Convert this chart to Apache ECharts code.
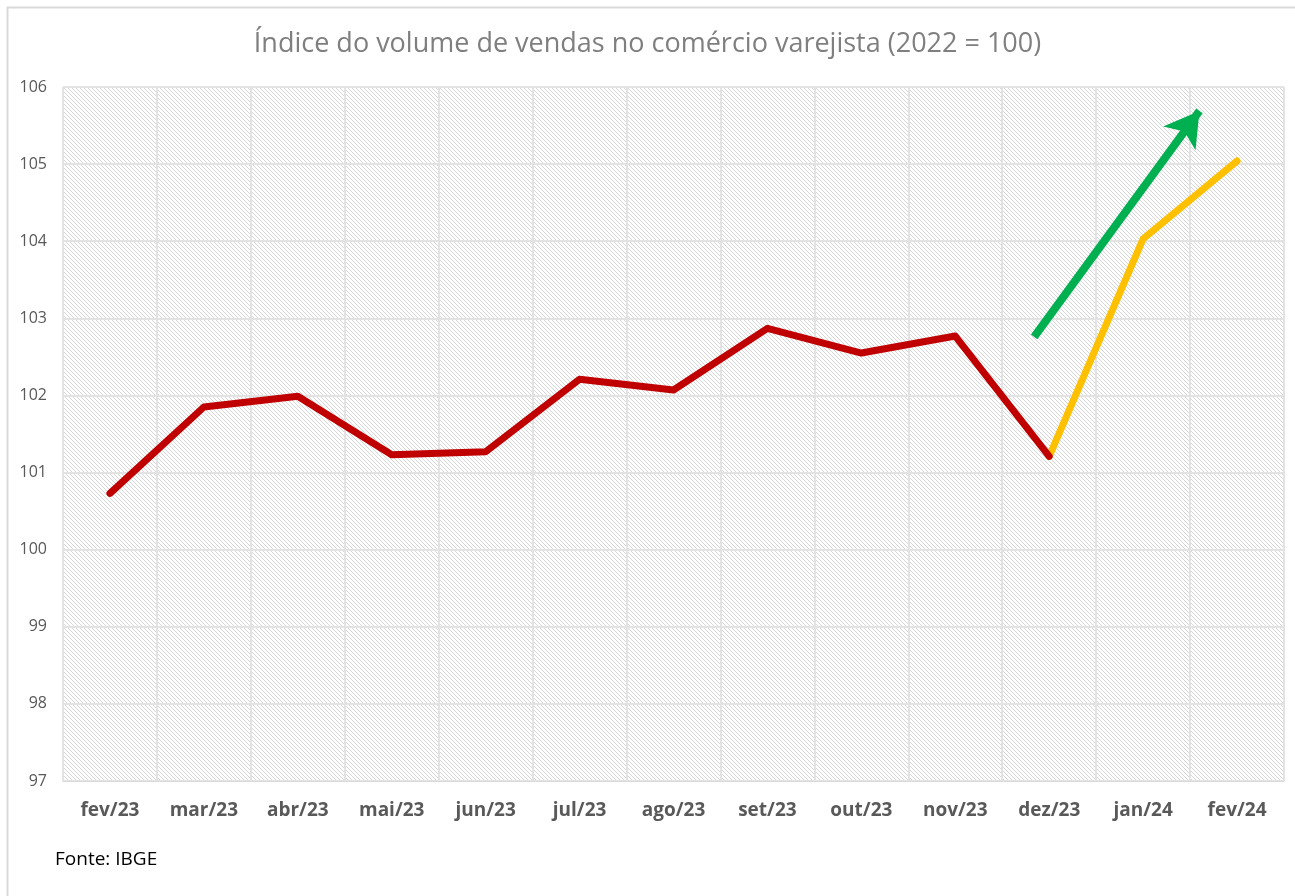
<!DOCTYPE html>
<html><head><meta charset="utf-8">
<script src="https://cdn.jsdelivr.net/npm/echarts@6/dist/echarts.min.js"></script>
<style>html,body{margin:0;padding:0;background:#fff}#c{width:1295px;height:896px}</style>
</head><body><div id="c"></div>
<script>
const categories = ['fev/23','mar/23','abr/23','mai/23','jun/23','jul/23','ago/23','set/23','out/23','nov/23','dez/23','jan/24','fev/24'];
const redValues = [100.73,101.85,101.99,101.23,101.27,102.21,102.07,102.87,102.55,102.77,101.21,null,null];
const yellowValues = [null,null,null,null,null,null,null,null,null,null,101.21,104.03,105.04];
const arrowStart = [9.84, 102.76];
const arrowEnd = [11.60, 105.69];
const yTicks = [97,98,99,100,101,102,103,104,105,106];

const pc = document.createElement('canvas');
pc.width = 4; pc.height = 4;
const px = pc.getContext('2d');
px.fillStyle = '#ffffff'; px.fillRect(0,0,4,4);
px.fillStyle = '#d6d6d6';
for (let i = 0; i < 4; i++) { px.fillRect(i, i, 1, 1); }

const chart = echarts.init(document.getElementById('c'));
chart.setOption({
  animation: false,
  backgroundColor: '#fff',
  title: {
    text: 'Índice do volume de vendas no comércio varejista (2022 = 100)',
    left: 'center', top: 26,
    textStyle: {fontFamily: 'Open Sans', fontSize: 27, fontWeight: 'normal', color: '#7f7f7f'}
  },
  graphic: [
    {type: 'rect', shape: {x: 7.5, y: 7.5, width: 1400, height: 1000}, style: {fill: 'none', stroke: '#d9d9d9', lineWidth: 2}, silent: true, z: -1},
    {type: 'text', left: 55, top: 850, style: {text: 'Fonte: IBGE', fontFamily: 'Open Sans', fontSize: 19, fill: '#000'}}
  ],
  grid: {left: 63, top: 87, width: 1221, height: 694, show: true, borderWidth: 0,
         backgroundColor: {image: pc, repeat: 'repeat'}},
  xAxis: [{
    type: 'category', data: categories, boundaryGap: true,
    axisLine: {show: true, lineStyle: {color: '#d9d9d9', width: 1}},
    axisTick: {show: false},
    axisLabel: {interval: 0, margin: 20, fontFamily: 'Open Sans', fontSize: 19, fontWeight: 'bold', color: '#595959'},
    splitLine: {show: true, interval: 0, lineStyle: {color: '#e3e3e3', width: 2}}
  }, {
    type: 'value', min: -0.5, max: 12.5, show: false
  }],
  yAxis: {
    type: 'value', min: yTicks[0], max: yTicks[yTicks.length-1], interval: 1,
    axisLine: {show: false}, axisTick: {show: false},
    axisLabel: {fontFamily: 'Open Sans', fontSize: 16, color: '#595959', margin: 16},
    splitLine: {lineStyle: {color: '#e3e3e3', width: 2}}
  },
  series: [
    {type: 'line', data: redValues, symbol: 'none', connectNulls: false,
     lineStyle: {color: '#c00000', width: 7, cap: 'round', join: 'round'}, z: 3},
    {type: 'line', data: yellowValues, symbol: 'none',
     lineStyle: {color: '#ffc000', width: 7, cap: 'round', join: 'round'}, z: 2},
    {type: 'line', xAxisIndex: 1, data: [], symbol: 'none',
     markLine: {silent: true, symbol: ['none', 'arrow'], symbolSize: [30, 34],
       label: {show: false},
       lineStyle: {color: '#00b050', width: 8, type: 'solid'},
       data: [[{coord: arrowStart}, {coord: arrowEnd}]]}}
  ]
});
</script></body></html>
